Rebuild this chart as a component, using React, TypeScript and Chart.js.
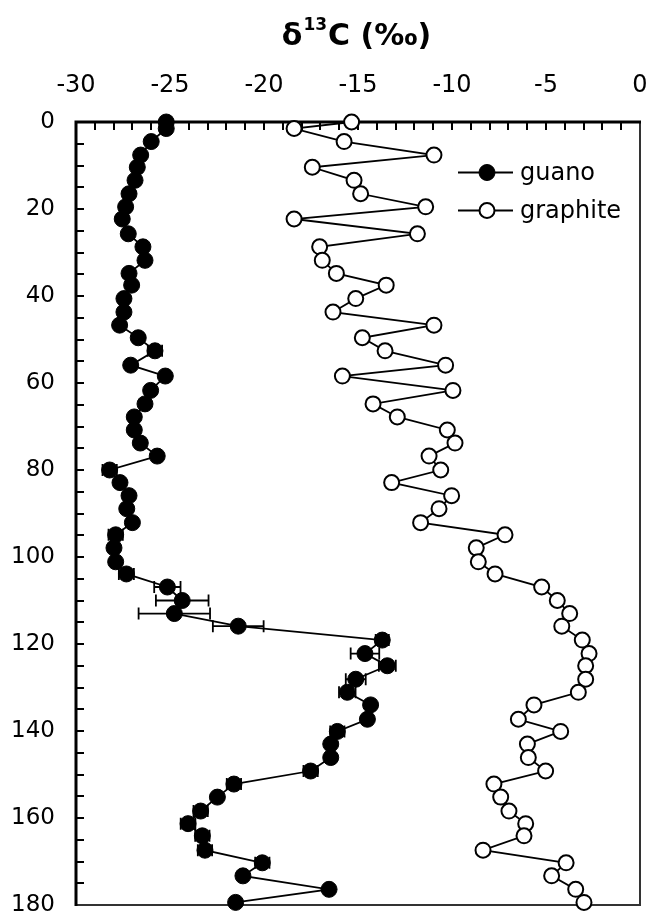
import React, { useEffect, useRef } from "react";
import { Chart, registerables } from "chart.js";

Chart.register(...registerables);

const FONT = '"DejaVu Sans", Verdana, sans-serif';

// depth (cm) shared by both series
const depth = [
  0, 1.5, 4.5, 7.6, 10.4, 13.4, 16.5, 19.5, 22.3, 25.7,
  28.7, 31.8, 34.8, 37.5, 40.6, 43.7, 46.7, 49.6, 52.6, 55.9,
  58.4, 61.7, 64.8, 67.8, 70.8, 73.8, 76.8, 80.0, 82.9, 85.9,
  88.9, 92.1, 94.9, 97.9, 101.1, 103.9, 106.9, 110.0, 113.0, 115.9,
  119.1, 122.2, 125.0, 128.1, 131.1, 134.0, 137.3, 140.1, 143.0, 146.1,
  149.2, 152.2, 155.2, 158.4, 161.3, 164.1, 167.4, 170.3, 173.3, 176.4,
  179.4,
];

const guano = [
  -25.2, -25.2, -26.0, -26.56, -26.74, -26.86, -27.18, -27.36, -27.54, -27.22,
  -26.44, -26.33, -27.18, -27.04, -27.45, -27.45, -27.68, -26.69, -25.8, -27.09,
  -25.25, -26.03, -26.33, -26.9, -26.9, -26.58, -25.68, -28.21, -27.66, -27.18,
  -27.3, -27.0, -27.89, -27.98, -27.89, -27.32, -25.14, -24.35, -24.77, -21.37,
  -13.71, -14.63, -13.44, -15.12, -15.57, -14.33, -14.5, -16.1, -16.45, -16.45,
  -17.52, -21.6, -22.48, -23.37, -24.04, -23.28, -23.14, -20.09, -21.12, -16.54,
  -21.51,
];

const guanoErr = [
  0, 0, 0, 0, 0, 0, 0, 0, 0, 0,
  0, 0, 0, 0, 0, 0, 0, 0, 0.38, 0,
  0, 0, 0, 0, 0, 0, 0, 0.38, 0, 0,
  0, 0, 0.38, 0, 0, 0.4, 0.7, 1.4, 1.9, 1.35,
  0.35, 0.76, 0.45, 0.53, 0.44, 0, 0, 0.38, 0, 0,
  0.38, 0.38, 0, 0.38, 0.39, 0.38, 0.38, 0.38, 0, 0,
  0,
];

const graphite = [
  -15.34, -18.4, -15.74, -10.96, -17.43, -15.21, -14.86, -11.4, -18.4, -11.84,
  -17.04, -16.9, -16.15, -13.5, -15.12, -16.33, -10.96, -14.77, -13.56, -10.34,
  -15.83, -9.95, -14.2, -12.91, -10.25, -9.84, -11.22, -10.6, -13.21, -10.02,
  -10.69, -11.67, -7.18, -8.71, -8.6, -7.71, -5.23, -4.4, -3.74, -4.16,
  -3.07, -2.71, -2.89, -2.89, -3.28, -5.64, -6.47, -4.22, -5.99, -5.94,
  -5.02, -7.77, -7.41, -6.97, -6.08, -6.17, -8.35, -3.93, -4.7, -3.42,
  -2.98,
];

const seriesLabels = ["guano", "graphite"];
const titleMain = "δ";
const titleSup = "13";
const titleRest = "C (‰)";

export default function App() {
  const ref = useRef<HTMLCanvasElement>(null);

  useEffect(() => {
    if (!ref.current) return;

    const framePlugin = {
      id: "frame",
      beforeDatasetsDraw(chart: any) {
        const { ctx, chartArea: a, scales } = chart;
        const xs = scales.x;
        const ys = scales.y;
        ctx.save();
        // minor/major ticks pointing inward
        ctx.strokeStyle = "#000";
        ctx.lineWidth = 2;
        ctx.beginPath();
        for (let v = -30; v <= 0; v += 1) {
          const px = Math.round(xs.getPixelForValue(v));
          ctx.moveTo(px, a.top);
          ctx.lineTo(px, a.top + 8);
        }
        for (let v = 0; v <= 180; v += 5) {
          const py = Math.round(ys.getPixelForValue(v));
          ctx.moveTo(a.left, py);
          ctx.lineTo(a.left + 8, py);
        }
        ctx.stroke();
        // frame
        ctx.strokeStyle = "#333";
        ctx.lineWidth = 2;
        ctx.beginPath();
        ctx.moveTo(a.right, a.top);
        ctx.lineTo(a.right, a.bottom);
        ctx.lineTo(a.left, a.bottom);
        ctx.stroke();
        ctx.strokeStyle = "#000";
        ctx.lineWidth = 3;
        ctx.beginPath();
        ctx.moveTo(a.left, a.bottom + 1);
        ctx.lineTo(a.left, a.top);
        ctx.lineTo(a.right + 1, a.top);
        ctx.stroke();

        // error bars for guano
        const meta = chart.getDatasetMeta(0);
        ctx.lineWidth = 1.8;
        ctx.strokeStyle = "#000";
        ctx.beginPath();
        guanoErr.forEach((e, i) => {
          if (!e) return;
          const pt = meta.data[i];
          const y = pt.y;
          const x1 = xs.getPixelForValue(guano[i] - e);
          const x2 = xs.getPixelForValue(guano[i] + e);
          ctx.moveTo(x1, y);
          ctx.lineTo(x2, y);
          ctx.moveTo(x1, y - 6);
          ctx.lineTo(x1, y + 6);
          ctx.moveTo(x2, y - 6);
          ctx.lineTo(x2, y + 6);
        });
        ctx.stroke();
        ctx.restore();
      },
      afterDraw(chart: any) {
        const { ctx, chartArea: a } = chart;
        ctx.save();
        // title with superscript
        const big = `bold 30px ${FONT}`;
        const small = `bold 17px ${FONT}`;
        ctx.font = big;
        const w1 = ctx.measureText(titleMain).width;
        const w3 = ctx.measureText(titleRest).width;
        ctx.font = small;
        const w2 = ctx.measureText(titleSup).width;
        const total = w1 + w2 + w3 + 2;
        let x = 356.5 - total / 2;
        const base = 45;
        ctx.fillStyle = "#000";
        ctx.textBaseline = "alphabetic";
        ctx.textAlign = "left";
        ctx.font = big;
        ctx.fillText(titleMain, x, base);
        x += w1 + 1;
        ctx.font = small;
        ctx.fillText(titleSup, x, base - 15);
        x += w2 + 1;
        ctx.font = big;
        ctx.fillText(titleRest, x, base);

        // legend
        const rows = [172.5, 210.5];
        rows.forEach((ly, i) => {
          ctx.strokeStyle = "#000";
          ctx.lineWidth = 2;
          ctx.beginPath();
          ctx.moveTo(458, ly);
          ctx.lineTo(513, ly);
          ctx.stroke();
          ctx.beginPath();
          ctx.arc(487, ly, i === 0 ? 8 : 7.5, 0, Math.PI * 2);
          ctx.fillStyle = i === 0 ? "#000" : "#fff";
          ctx.fill();
          ctx.lineWidth = i === 0 ? 1 : 2;
          ctx.stroke();
          ctx.fillStyle = "#000";
          ctx.font = `24px ${FONT}`;
          ctx.textBaseline = "middle";
          ctx.fillText(seriesLabels[i], 520, ly + 1);
        });
        ctx.restore();
      },
    };

    const chart = new Chart(ref.current, {
      type: "scatter",
      data: {
        datasets: [
          {
            label: seriesLabels[0],
            data: depth.map((d, i) => ({ x: guano[i], y: d })),
            showLine: true,
            borderColor: "#000",
            borderWidth: 1.8,
            pointRadius: 8,
            pointBackgroundColor: "#000",
            pointBorderColor: "#000",
            pointBorderWidth: 1,
            clip: false,
          } as any,
          {
            label: seriesLabels[1],
            data: depth.map((d, i) => ({ x: graphite[i], y: d })),
            showLine: true,
            borderColor: "#000",
            borderWidth: 1.8,
            pointRadius: 7.5,
            pointBackgroundColor: "#fff",
            pointBorderColor: "#000",
            pointBorderWidth: 2,
            clip: false,
          } as any,
        ],
      },
      options: {
        responsive: false,
        animation: false,
        layout: { padding: { top: 0, left: 0, right: 10, bottom: 11 } },
        plugins: {
          legend: { display: false },
          tooltip: { enabled: false },
          title: { display: false },
        },
        scales: {
          x: {
            type: "linear",
            position: "top",
            min: -30,
            max: 0,
            ticks: {
              stepSize: 5,
              color: "#000",
              padding: 22,
              maxRotation: 0,
              autoSkip: false,
              font: { family: FONT, size: 24, lineHeight: 1.2 },
            },
            grid: { display: false, drawTicks: false },
            border: { display: false },
            afterFit: (s: any) => {
              s.height = 122;
              s.paddingLeft = 0;
              s.paddingRight = 0;
            },
          },
          y: {
            type: "linear",
            position: "left",
            reverse: true,
            min: 0,
            max: 180,
            ticks: {
              stepSize: 20,
              color: "#000",
              padding: 21,
              font: { family: FONT, size: 23, lineHeight: 1.0 },
            },
            grid: { display: false, drawTicks: false },
            border: { display: false },
            afterFit: (s: any) => {
              s.width = 76;
              s.paddingTop = 0;
              s.paddingBottom = 0;
            },
          },
        },
      } as any,
      plugins: [framePlugin],
    });

    return () => chart.destroy();
  }, []);

  return (
    <div style={{ position: "absolute", left: 0, top: 0, width: 650, height: 916, background: "#fff" }}>
      <canvas ref={ref} width={650} height={916} style={{ display: "block" }} />
    </div>
  );
}
